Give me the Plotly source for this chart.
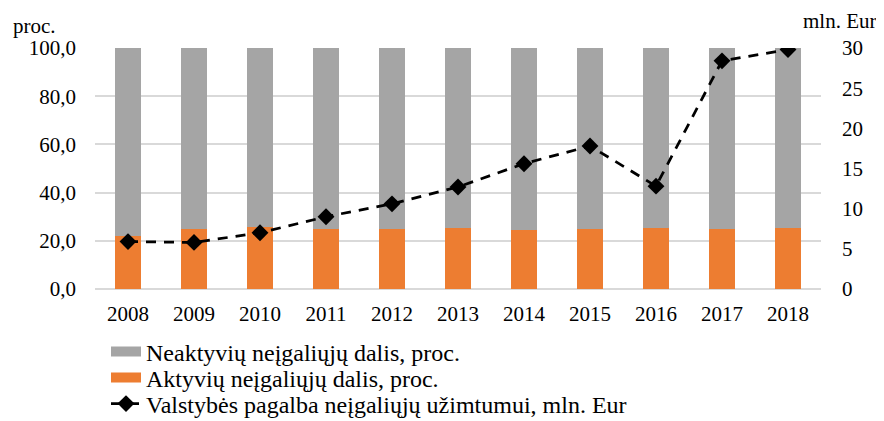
import plotly.graph_objects as go

years = ["2008", "2009", "2010", "2011", "2012", "2013", "2014", "2015", "2016", "2017", "2018"]
aktyviu = [22.2, 25.1, 25.9, 24.7, 24.7, 25.3, 24.4, 24.7, 25.4, 25.1, 25.5]
neaktyviu = [round(100 - a, 1) for a in aktyviu]
pagalba = [5.9, 5.8, 7.0, 9.0, 10.6, 12.7, 15.6, 17.8, 12.8, 28.4, 29.8]

name_neakt = "Neaktyvių neįgaliųjų dalis, proc."
name_akt = "Aktyvių neįgaliųjų dalis, proc."
name_pag = "Valstybės pagalba neįgaliųjų užimtumui, mln. Eur"

GRAY = "#a5a5a5"
ORANGE = "#ed7d31"
FONT = "Liberation Serif"
TICK = dict(family=FONT, size=21, color="black")
LEG = dict(family=FONT, size=24, color="black")

fig = go.Figure()
fig.add_trace(go.Bar(x=years, y=aktyviu, marker=dict(color=ORANGE, line=dict(width=0)),
                     width=0.4, showlegend=False, name=name_akt))
fig.add_trace(go.Bar(x=years, y=neaktyviu, marker=dict(color=GRAY, line=dict(width=0)),
                     width=0.4, showlegend=False, name=name_neakt))
fig.add_trace(go.Scatter(x=years, y=pagalba, yaxis="y2", mode="lines+markers",
                         line=dict(color="black", width=2.75, dash="10px,8px"),
                         marker=dict(symbol="diamond", size=13, color="black"),
                         name=name_pag, legend="legend3"))
# wide legend keys for the bar series
fig.add_trace(go.Scatter(x=[None], y=[None], mode="lines", line=dict(color=GRAY, width=11),
                         name=name_neakt, legend="legend"))
fig.add_trace(go.Scatter(x=[None], y=[None], mode="lines", line=dict(color=ORANGE, width=11),
                         name=name_akt, legend="legend2"))

W, H = 876, 413  # page body has an 8px margin in the browser
common = dict(xref="container", yref="container", xanchor="left", yanchor="middle",
              font=LEG, bgcolor="rgba(0,0,0,0)", borderwidth=0, itemwidth=30)
lx = 98 / W

fig.update_layout(
    width=W, height=H,
    margin=dict(l=87, r=63, t=39.5, b=131.5, autoexpand=False),
    barmode="stack",
    plot_bgcolor="white", paper_bgcolor="white",
    font=dict(family=FONT, size=21, color="black"),
    separators=",.",
    xaxis=dict(type="category", range=[-0.5, 10.5], showgrid=False, showline=False, ticks="",
               ticklabelstandoff=10, tickangle=0, automargin=False, tickfont=TICK),
    yaxis=dict(range=[0, 100], dtick=20, tickformat=".1f",
               showgrid=True, gridcolor="#d9d9d9", gridwidth=1.5,
               zeroline=True, zerolinecolor="#d9d9d9", zerolinewidth=1.5,
               ticks="", ticklabelstandoff=18, automargin=False, tickfont=TICK),
    yaxis2=dict(range=[0, 30], dtick=5, overlaying="y", side="right",
                showgrid=False, zeroline=False, ticks="", ticklabelstandoff=20, automargin=False,
                tickfont=TICK),
    legend=dict(x=lx, y=(H - 344) / H, **common),
    legend2=dict(x=lx, y=(H - 370) / H, **common),
    legend3=dict(x=lx, y=(H - 396) / H, **common),
    annotations=[
        dict(text="proc.", xref="paper", yref="paper", x=(3 - 87) / 726, y=(H - 17 - 131.5) / 242,
             xanchor="left", yanchor="middle", showarrow=False, font=TICK),
        dict(text="mln. Eur", xref="paper", yref="paper", x=(871 - 87) / 726, y=(H - 12 - 131.5) / 242,
             xanchor="right", yanchor="middle", showarrow=False, font=TICK),
    ],
)

fig.write_html("out.html")
